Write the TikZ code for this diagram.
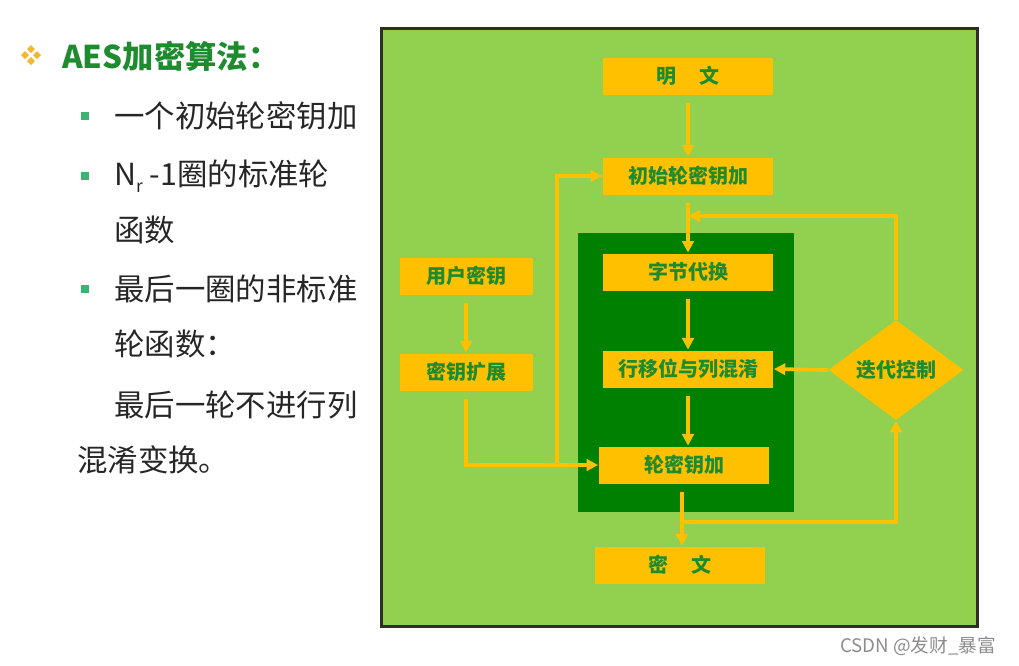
\documentclass[tikz,border=0pt]{standalone}
\usepackage{fontspec}
\setmainfont{Noto Sans CJK SC}
\usetikzlibrary{arrows.meta,shapes.geometric}

\definecolor{leaf}{HTML}{92D050}
\definecolor{deep}{HTML}{008000}
\definecolor{gold}{HTML}{FFC000}
\definecolor{ink}{HTML}{1E8B2F}
\definecolor{frame}{HTML}{2E2E22}
\definecolor{dot}{HTML}{3CB371}
\definecolor{star}{HTML}{F5B731}
\definecolor{body}{HTML}{262626}

\tikzset{
  stage/.style={fill=gold, minimum width=127.5pt, minimum height=27.75pt, inner sep=0pt,
    font=\fontsize{15}{18}\selectfont\bfseries, text=ink},
  keybox/.style={stage, minimum width=99.75pt},
  flow/.style={draw=gold, line width=2.8pt, -{Triangle[length=8.5pt,width=8.5pt]}, shorten >=0.5pt},
  gap/.style={shorten <=6pt},
  para/.style={anchor=west, inner sep=0pt, font=\fontsize{22.8}{27}\selectfont, text=body}
}

\begin{document}
\begin{tikzpicture}[x=0.75pt, y=-0.75pt]
\useasboundingbox (0,0) rectangle (1019,665);

% left text
\foreach \dx/\dy in {0/-6, 0/6, -6/0, 6/0}
  \fill[star] (31+\dx,55+\dy) ++(-4,0) -- ++(4,-4) -- ++(4,4) -- ++(-4,4) -- cycle;
\node[para, text=ink, font=\fontsize{23.5}{27}\selectfont\bfseries] (title) at (62,56) {AES加密算法：};

\fill[dot] (81,112) rectangle ++(8,8);
\fill[dot] (81,172) rectangle ++(8,8);
\fill[dot] (81,285) rectangle ++(8,8);

\node[para] (l1) at (114,116) {一个初始轮密钥加};
\node[para] (l2) at (114,176) {N\raisebox{-0.45ex}{\fontsize{13}{13}\selectfont r} -1圈的标准轮};
\node[para] (l3) at (114,230) {函数};
\node[para] (l4) at (114,289) {最后一圈的非标准};
\node[para] (l5) at (114,344) {轮函数：};
\node[para] (l6) at (114,405) {最后一轮不进行列};
\node[para] (l7) at (77,460) {混淆变换。};

% frame
\draw[line width=2.25pt, draw=frame, fill=leaf] (381,28) rectangle (977,626);
\fill[deep] (578,233) rectangle (794,512);

% blocks
\node[stage] (plain) at (688,76) {明\hspace{1.2em}文};
\node[stage] (init) at (688,176) {初始轮密钥加};
\node[stage] (sub) at (688,272) {字节代换};
\node[stage] (mix) at (688,369) {行移位与列混淆};
\node[stage] (rk) at (684,465) {轮密钥加};
\node[stage] (cipher) at (680,565) {密\hspace{1.2em}文};

\node[keybox] (user) at (466,276) {用户密钥};
\node[keybox] (expand) at (466,372) {密钥扩展};

\node[diamond, fill=gold, minimum width=101.25pt, minimum height=75pt, aspect=1.35, inner sep=0pt,
  font=\fontsize{15}{18}\selectfont\bfseries, text=ink] (ctrl) at (896,370) {迭代控制};

\coordinate (loopin) at (688,216);
\coordinate (split) at (682,522);
\coordinate (fork) at (557,466);

% arrows
\draw[flow, gap] (plain.south) -- (init.north);
\draw[flow, gap] (init.south) -- (sub.north);
\draw[flow, gap] (sub.south) -- (mix.north);
\draw[flow, gap] (mix.south -| sub.south) -- (rk.north -| sub.south);
\draw[flow, gap] (rk.south -| split) -- (cipher.north -| split);
\draw[flow] (split) -| (ctrl.south);
\draw[flow] (ctrl.north) |- (loopin);
\draw[flow] (ctrl.west) -- (mix.east);

\draw[flow, gap] (user.south) -- (expand.north);
\draw[flow, gap] (expand.south) |- (rk.west);
\draw[flow] (fork) |- (init.west);

\node[text=black!45, font=\fontsize{14}{16}\selectfont, anchor=west, inner sep=0pt] (mark) at (840,646) {CSDN @发财\_暴富};
\end{tikzpicture}
\end{document}
